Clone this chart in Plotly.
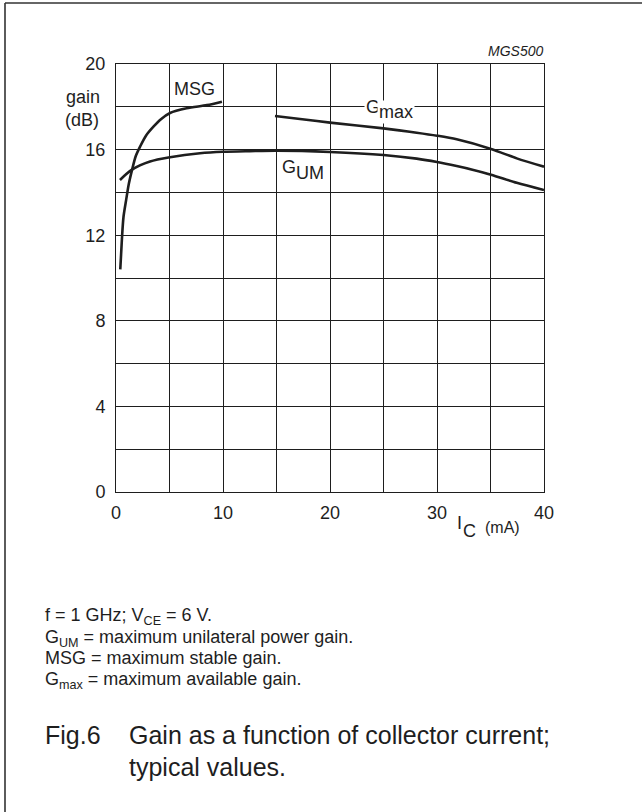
import plotly.graph_objects as go

# ---- data ----
msg_ic = [0.4, 0.55, 0.7, 0.95, 1.2, 1.5, 1.85, 2.25, 2.8, 3.5, 4.2, 5.05, 6.6, 8.5, 9.9]
msg_gain = [10.4, 11.8, 12.85, 13.65, 14.4, 15.05, 15.7, 16.14, 16.65, 17.07, 17.42, 17.71, 17.93, 18.08, 18.24]

gum_ic = [0.37, 1.46, 3.18, 5.05, 7.85, 10.0, 12.5, 15.0, 20.0, 25.0, 28.1, 30.0, 31.84, 33.4, 35.05, 37.45, 40.0]
gum_gain = [14.58, 15.05, 15.44, 15.64, 15.83, 15.9, 15.93, 15.95, 15.89, 15.75, 15.58, 15.42, 15.23, 15.05, 14.83, 14.45, 14.11]

gmax_ic = [14.86, 17.2, 20.0, 25.0, 28.1, 30.0, 31.84, 35.05, 37.45, 40.0]
gmax_gain = [17.57, 17.43, 17.26, 16.99, 16.79, 16.65, 16.48, 16.03, 15.59, 15.2]

x_tickvals = [0, 5, 10, 15, 20, 25, 30, 35, 40]
x_ticktext = ["0", "", "10", "", "20", "", "30", "", "40"]
y_tickvals = [0, 2, 4, 6, 8, 10, 12, 14, 16, 18, 20]
y_ticktext = ["0", "", "4", "", "8", "", "12", "", "16", "", "20"]

# ---- layout geometry (pixels) ----
W_FIG, H_FIG = 642, 812
L, R, T, B = 116, 544, 64, 492
FONT = "Liberation Sans, Arial, Helvetica, sans-serif"
INK = "#1e1e1e"


def px(x):
    return (x - L) / (R - L)


def py(y):
    return (B - y) / (B - T)


fig = go.Figure()
line_style = dict(color=INK, width=2.6, shape="spline", smoothing=0.8)
fig.add_trace(go.Scatter(x=msg_ic, y=msg_gain, mode="lines", line=line_style, name="MSG"))
fig.add_trace(go.Scatter(x=gum_ic, y=gum_gain, mode="lines", line=line_style, name="GUM"))
fig.add_trace(go.Scatter(x=gmax_ic, y=gmax_gain, mode="lines", line=line_style, name="Gmax"))

axis_common = dict(
    showgrid=True, gridcolor=INK, gridwidth=1,
    showline=True, mirror=True, linecolor=INK, linewidth=1,
    zeroline=False, ticks="", tickfont=dict(size=18, color=INK, family=FONT),
)
fig.update_xaxes(range=[0, 40], tickmode="array", tickvals=x_tickvals, ticktext=x_ticktext,
                 ticklabelstandoff=4, **axis_common)
fig.update_yaxes(range=[0, 20], tickmode="array", tickvals=y_tickvals, ticktext=y_ticktext,
                 ticklabelstandoff=6, **axis_common)

ann = []


def add(text, x, y, size=18, xanchor="center", yanchor="middle", **kw):
    ann.append(dict(text=text, x=px(x), y=py(y), xref="paper", yref="paper",
                    xanchor=xanchor, yanchor=yanchor, showarrow=False,
                    font=dict(size=size, color=INK, family=FONT), **kw))


add("<i>MGS500</i>", 545, 51, size=14, xanchor="right")
add("gain", 83, 97)
add("(dB)", 82, 120)
add("MSG", 194, 89)
# G_max label (white box breaks the grid line)
add("G", 364, 107, xanchor="left", bgcolor="white", borderpad=1)
add("max", 377, 112, xanchor="left", bgcolor="white", borderpad=1)
# G_UM label
add("G", 280, 167, xanchor="left")
add("UM", 294, 173, xanchor="left")
# I_C (mA) axis label
add("I", 455, 523, xanchor="left")
add("C", 461, 531, xanchor="left")
add("(mA)", 483, 527, size=16, xanchor="left")

add("f = 1 GHz; V<sub>CE</sub> = 6 V.", 43, 616, xanchor="left")
add("G<sub>UM</sub> = maximum unilateral power gain.", 43, 638, xanchor="left")
add("MSG = maximum stable gain.", 43, 658, xanchor="left")
add("G<sub>max</sub> = maximum available gain.", 43, 680, xanchor="left")

add("Fig.6", 43, 735, size=25, xanchor="left")
add("Gain as a function of collector current;", 127, 735, size=25, xanchor="left")
add("typical values.", 127, 767, size=25, xanchor="left")

shapes = [
    dict(type="line", xref="paper", yref="paper", x0=px(5), x1=px(5), y0=py(3), y1=py(H_FIG + 10),
         line=dict(color="#333", width=1.6)),
    dict(type="line", xref="paper", yref="paper", x0=px(5), x1=px(W_FIG + 10), y0=py(3), y1=py(3),
         line=dict(color="#333", width=1.6)),
]

fig.update_layout(
    width=W_FIG, height=H_FIG,
    margin=dict(l=L, r=W_FIG - R, t=T, b=H_FIG - B),
    paper_bgcolor="white", plot_bgcolor="white",
    showlegend=False, annotations=ann, shapes=shapes,
    font=dict(family=FONT, color=INK),
)

fig.write_html("out.html", config={"displayModeBar": False},
               post_script="document.body.style.margin='0';")
